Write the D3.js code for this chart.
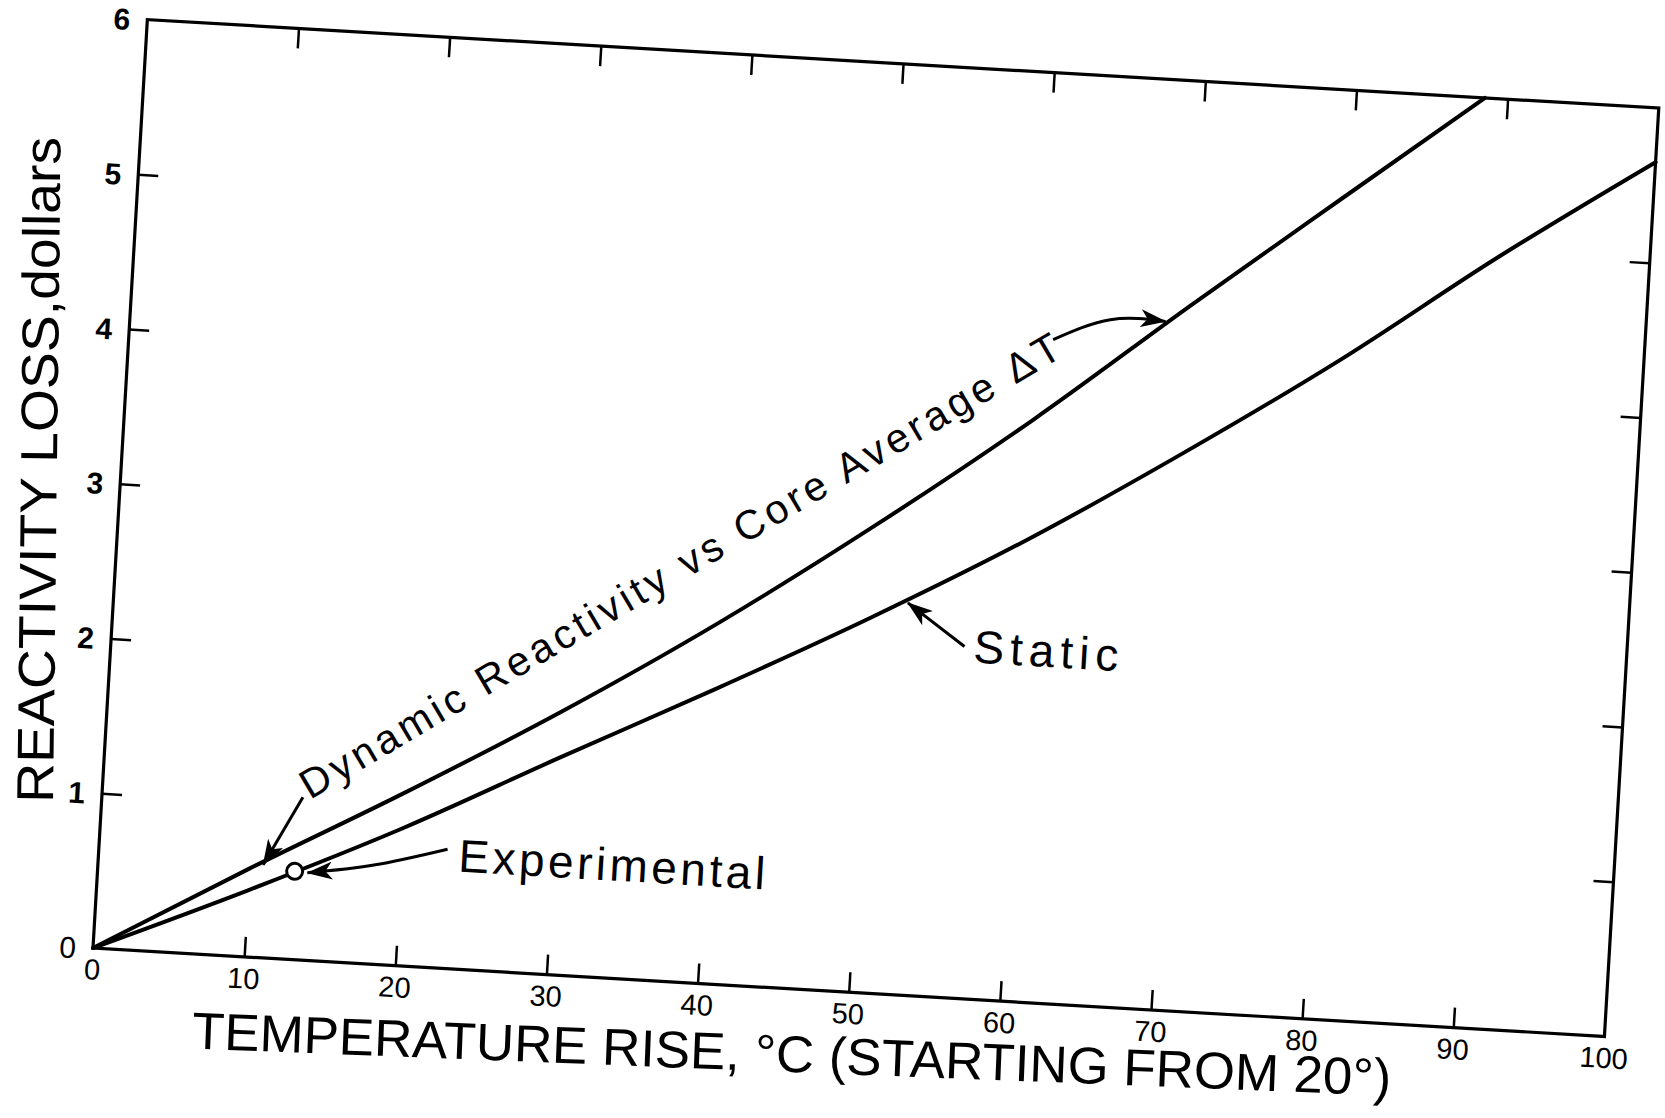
<!DOCTYPE html>
<html>
<head>
<meta charset="utf-8">
<script src="https://cdn.jsdelivr.net/npm/d3@7"></script>
<style>
body { margin: 0; background: #fff; }
text { font-family: "Liberation Sans", Arial, sans-serif; fill: #000; }
</style>
</head>
<body>
<svg id="chart" width="1665" height="1118"></svg>
<script>
// curve data
var dynamicTemp = [0, 10, 20, 30, 40, 50, 60, 70, 80, 88.5];
var dynamicLoss = [0, 0.57, 1.12, 1.70, 2.33, 3.02, 3.76, 4.56, 5.34, 6.0];
var staticTemp = [0, 10, 20, 30, 40, 50, 60, 70, 80, 90, 100];
var staticLoss = [0, 0.43, 0.89, 1.40, 1.90, 2.42, 2.98, 3.60, 4.26, 4.98, 5.65];
var experimental = [[13, 0.57]];

var xTicks = [0, 10, 20, 30, 40, 50, 60, 70, 80, 90, 100];
var yTicks = [0, 1, 2, 3, 4, 5, 6];
var innerX = [10, 20, 30, 40, 50, 60, 70, 80, 90];
var innerY = [1, 2, 3, 4, 5];

// annotation anchors, in data units
var dynArrow = [[13.26, 1.05], [10.9, 0.60]];
var expArrow = [[23.0, 0.77], [18.2, 0.64], [13.85, 0.565]];
var dtArrow = [[60.96, 4.28], [64.65, 4.43], [68.3, 4.44]];
var staticArrow = [[56.3, 2.27], [52.4, 2.53]];

var W = 1514, H = 930;

var svg = d3.select("#chart");

svg.append("defs").append("marker")
  .attr("id", "head")
  .attr("viewBox", "0 0 26 18")
  .attr("refX", 25)
  .attr("refY", 9)
  .attr("markerWidth", 26)
  .attr("markerHeight", 18)
  .attr("markerUnits", "userSpaceOnUse")
  .attr("orient", "auto")
  .append("path")
  .attr("d", "M0,0 L26,9 L0,18 L7,9 Z")
  .attr("fill", "#000");

// the scanned figure is tilted a little
var g = svg.append("g")
  .attr("transform", "translate(93,948) rotate(3.35) translate(0,-930)");

var x = d3.scaleLinear().domain([0, 100]).range([0, W]);
var y = d3.scaleLinear().domain([0, 6]).range([H, 0]);

// axes
var xAxis = g.append("g")
  .attr("transform", "translate(0," + H + ")")
  .call(d3.axisBottom(x).tickValues(xTicks).tickFormat(d3.format("d"))
    .tickSizeInner(-20).tickSizeOuter(0).tickPadding(11));
xAxis.selectAll(".tick line").filter(function(d) { return d == 0 || d == 100; }).remove();

var yAxis = g.append("g")
  .call(d3.axisLeft(y).tickValues(yTicks).tickFormat(d3.format("d"))
    .tickSizeInner(-20).tickSizeOuter(0).tickPadding(17));
yAxis.selectAll(".tick line").filter(function(d) { return d == 0 || d == 6; }).remove();

g.append("g")
  .call(d3.axisTop(x).tickValues(innerX).tickSizeInner(-20).tickSizeOuter(0).tickFormat(""));
g.append("g")
  .attr("transform", "translate(" + W + ",0)")
  .call(d3.axisRight(y).tickValues(innerY).tickSizeInner(-20).tickSizeOuter(0).tickFormat(""));

g.selectAll(".domain").remove();
g.selectAll(".tick line").attr("stroke", "#000").attr("stroke-width", 2.5);
xAxis.selectAll("text").attr("font-size", 29).attr("font-family", "Liberation Sans, Arial, sans-serif");
yAxis.selectAll("text").attr("font-size", 30).attr("font-weight", "bold").attr("dy", "0.36em")
  .attr("font-family", "Liberation Sans, Arial, sans-serif");
yAxis.selectAll("text").filter(function(d) { return d == 0; }).attr("font-weight", "normal");

// frame
g.append("rect")
  .attr("x", 0).attr("y", 0)
  .attr("width", W).attr("height", H)
  .attr("fill", "none")
  .attr("stroke", "#000")
  .attr("stroke-width", 3.2);

// curves
var line = d3.line()
  .x(function(d) { return x(d[0]); })
  .y(function(d) { return y(d[1]); })
  .curve(d3.curveMonotoneX);

g.append("path")
  .attr("d", line(d3.zip(dynamicTemp, dynamicLoss)))
  .attr("fill", "none")
  .attr("stroke", "#000")
  .attr("stroke-width", 4)
  .attr("stroke-linecap", "round");

g.append("path")
  .attr("d", line(d3.zip(staticTemp, staticLoss)))
  .attr("fill", "none")
  .attr("stroke", "#000")
  .attr("stroke-width", 4)
  .attr("stroke-linecap", "round");

g.selectAll(".exp")
  .data(experimental)
  .enter().append("circle")
  .attr("cx", function(d) { return x(d[0]); })
  .attr("cy", function(d) { return y(d[1]); })
  .attr("r", 8)
  .attr("fill", "#fff")
  .attr("stroke", "#000")
  .attr("stroke-width", 3);

// arrows
var straight = d3.line().x(function(d) { return x(d[0]); }).y(function(d) { return y(d[1]); });
var bent = d3.line().x(function(d) { return x(d[0]); }).y(function(d) { return y(d[1]); }).curve(d3.curveNatural);

[dynArrow, staticArrow].forEach(function(a) {
  g.append("path").attr("d", straight(a))
    .attr("fill", "none").attr("stroke", "#000").attr("stroke-width", 3)
    .attr("marker-end", "url(#head)");
});
[expArrow, dtArrow].forEach(function(a) {
  g.append("path").attr("d", bent(a))
    .attr("fill", "none").attr("stroke", "#000").attr("stroke-width", 3)
    .attr("marker-end", "url(#head)");
});

// labels on the curves
g.append("text")
  .attr("transform", "translate(" + x(13.74) + "," + y(1.035) + ") rotate(-33.85)")
  .attr("font-size", 41)
  .attr("textLength", 875)
  .attr("lengthAdjust", "spacing")
  .text("Dynamic Reactivity vs  Core Average \u0394T");

g.append("text")
  .attr("x", x(23.75)).attr("y", y(0.63))
  .attr("font-size", 46)
  .attr("textLength", 307)
  .attr("lengthAdjust", "spacing")
  .text("Experimental");

g.append("text")
  .attr("x", x(56.9)).attr("y", y(2.17))
  .attr("font-size", 46)
  .attr("textLength", 145)
  .attr("lengthAdjust", "spacing")
  .text("Static");

// axis titles
g.append("text")
  .attr("transform", "translate(704,1013) rotate(-1.1)")
  .attr("text-anchor", "middle")
  .attr("font-size", 52)
  .attr("textLength", 1200)
  .attr("lengthAdjust", "spacingAndGlyphs")
  .text("TEMPERATURE RISE, \u00b0C (STARTING FROM 20\u00b0)");

g.append("text")
  .attr("transform", "translate(-64,455) rotate(-92.7)")
  .attr("text-anchor", "middle")
  .attr("font-size", 52)
  .attr("textLength", 666)
  .attr("lengthAdjust", "spacingAndGlyphs")
  .text("REACTIVITY LOSS,dollars");
</script>
</body>
</html>
